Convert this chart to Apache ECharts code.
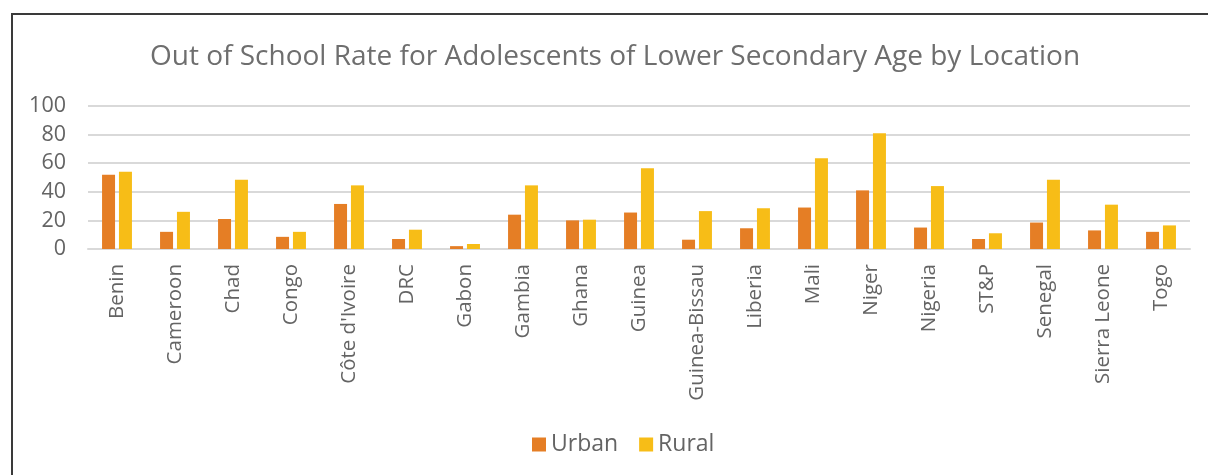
<!DOCTYPE html>
<html>
<head>
<meta charset="utf-8">
<script src="https://cdn.jsdelivr.net/npm/echarts@6/dist/echarts.min.js"></script>
<style>
  html, body { margin: 0; padding: 0; background: #fff; }
  #chart { width: 1208px; height: 475px; }
</style>
</head>
<body>
<div id="chart"></div>
<script>
// categories and values
const countries = ['Benin', 'Cameroon', 'Chad', 'Congo', "Côte d'Ivoire", 'DRC', 'Gabon', 'Gambia', 'Ghana',
  'Guinea', 'Guinea-Bissau', 'Liberia', 'Mali', 'Niger', 'Nigeria', 'ST&P', 'Senegal', 'Sierra Leone', 'Togo']
const urban = [52, 12, 21, 8.5, 31.5, 7, 2, 24, 20, 25.5, 6.5, 14.5, 29, 41, 15, 7, 18.5, 13, 12]
const rural = [54, 26, 48.5, 12, 44.5, 13.5, 3.5, 44.5, 20.5, 56.5, 26.5, 28.5, 63.5, 81, 44, 11, 48.5, 31, 16.5]
const yTicks = [0, 20, 40, 60, 80, 100]

const textGray = '#646464'
const font = '"Open Sans", "Liberation Sans", sans-serif'

const chart = echarts.init(document.getElementById('chart'))
chart.setOption({
  animation: false,
  title: {
    text: 'Out of School Rate for Adolescents of Lower Secondary Age by Location',
    left: 145,
    top: 38,
    textStyle: { color: '#6e6e6e', fontSize: 28, fontWeight: 'normal', fontFamily: font }
  },
  legend: {
    data: ['Urban', 'Rural'],
    bottom: 14,
    left: 527,
    itemWidth: 14,
    itemHeight: 14,
    itemGap: 21,
    icon: 'rect',
    textStyle: { color: textGray, fontSize: 23, fontFamily: font }
  },
  grid: { left: 88, right: 18, top: 106, bottom: 226 },
  xAxis: {
    type: 'category',
    data: countries,
    axisTick: { show: false },
    axisLine: { lineStyle: { color: '#d9d9d9', width: 2 } },
    axisLabel: { rotate: 90, interval: 0, margin: 15, color: textGray, fontSize: 20.5, fontFamily: font }
  },
  yAxis: {
    type: 'value',
    min: yTicks[0],
    max: yTicks[yTicks.length - 1],
    interval: 20,
    axisLine: { show: false },
    axisTick: { show: false },
    axisLabel: { color: textGray, fontSize: 21.5, fontFamily: font, margin: 22 },
    splitLine: { lineStyle: { color: '#d9d9d9', width: 2 } }
  },
  graphic: [{
    type: 'polyline',
    shape: { points: [[12, 480], [12, 14], [1210, 14]] },
    style: { stroke: '#3a3a3a', lineWidth: 2, fill: null }
  }],
  series: [
    {
      name: 'Urban', type: 'bar', data: urban, barWidth: 13, barGap: '30%',
      itemStyle: { color: '#e57e25' }
    },
    {
      name: 'Rural', type: 'bar', data: rural, barWidth: 13,
      itemStyle: { color: '#f7bd17' }
    }
  ]
})
</script>
</body>
</html>
